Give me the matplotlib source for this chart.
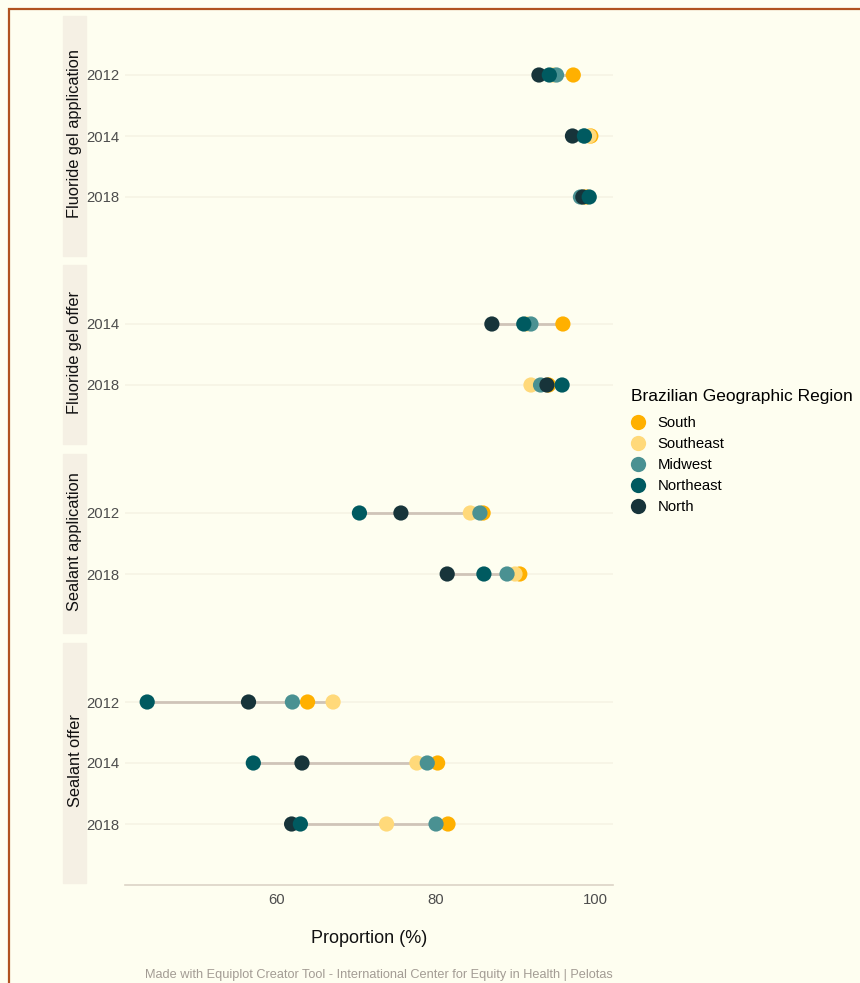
import matplotlib
matplotlib.use("Agg")
import matplotlib.pyplot as plt
from matplotlib.lines import Line2D
from matplotlib.patches import Rectangle
import numpy as np

# ---------------- data ----------------
indicators = ["Fluoride gel application", "Fluoride gel offer",
              "Sealant application", "Sealant offer"]
years = [["2012", "2014", "2018"], ["2014", "2018"], ["2012", "2018"],
         ["2012", "2014", "2018"]]
regions = ["South", "Southeast", "Midwest", "Northeast", "North"]
# rows in order: indicator x year (flattened)
south     = [97.2, 99.4, 98.8, 95.9, 94.1, 85.9, 90.5, 63.9, 80.2, 81.5]
southeast = [94.7, 99.2, 98.6, 91.4, 91.9, 84.3, 89.9, 67.1, 77.6, 73.8]
midwest   = [95.1, 98.5, 98.1, 91.9, 93.1, 85.5, 88.9, 62.0, 78.9, 80.0]
northeast = [94.2, 98.6, 99.2, 91.0, 95.8, 70.4, 86.0, 43.8, 57.1, 63.0]
north     = [92.9, 97.1, 98.4, 87.0, 93.9, 75.6, 81.4, 56.5, 63.2, 61.9]
x_ticks = [60, 80, 100]

colors = {"South": "#FFB000", "Southeast": "#FFD97A", "Midwest": "#4A9192",
          "Northeast": "#005A60", "North": "#17343A"}
draw_order = ["South", "Southeast", "Midwest", "North", "Northeast"]
values = {"South": south, "Southeast": southeast, "Midwest": midwest,
          "Northeast": northeast, "North": north}

# ---------------- layout ----------------
W, H = 860, 983
BG = "#FEFEF0"
plt.rcParams["font.family"] = ["Liberation Sans", "DejaVu Sans"]
fig = plt.figure(figsize=(W / 100, H / 100), dpi=100, facecolor=BG)

def fx(px):
    return px / W

def fy(py):
    return 1 - py / H

panel_left, panel_right = 125, 613
strip_left, strip_right = 63, 86
unit = 61.0
panel_tops = [14, 263, 452, 641]

allv = np.concatenate([np.array(v) for v in values.values()])
lo, hi = allv.min(), allv.max()
pad = (hi - lo) * 0.05
xlim = (lo - pad, hi + pad)

row = 0
axes = []
for i, ind in enumerate(indicators):
    n = len(years[i])
    top = panel_tops[i]
    h = (n + 1) * unit
    ax = fig.add_axes([fx(panel_left), fy(top + h), fx(panel_right - panel_left), h / H])
    ax.set_facecolor(BG)
    ax.set_xlim(*xlim)
    ax.set_ylim(n + 1, 0)
    ys = np.arange(1, n + 1)
    for y in ys:
        ax.axhline(y, color="#F6F4E4", lw=1.2, zorder=0)
    for j in range(n):
        r = row + j
        vals = [values[reg][r] for reg in regions]
        ax.plot([min(vals), max(vals)], [ys[j], ys[j]], color="#CFC4B8", lw=2, zorder=1,
                solid_capstyle="butt")
        for reg in draw_order:
            ax.scatter(values[reg][r], ys[j], s=120, color=colors[reg], zorder=2,
                       edgecolors="none")
    row += n
    ax.set_yticks(ys)
    ax.set_yticklabels(years[i])
    ax.tick_params(axis="y", length=0, pad=4, labelsize=10.7, labelcolor="#4D4D4D")
    for s in ax.spines.values():
        s.set_visible(False)
    if i == len(indicators) - 1:
        ax.set_xticks(x_ticks)
        ax.tick_params(axis="x", length=0, pad=6, labelsize=10.7, labelcolor="#4D4D4D")
        ax.spines["bottom"].set_visible(True)
        ax.spines["bottom"].set_color("#DCD3C6")
        ax.spines["bottom"].set_linewidth(1.2)
        ax.set_xlabel("Proportion (%)", fontsize=13, color="#111111", labelpad=16)
    else:
        ax.set_xticks([])
    # strip
    fig.patches.append(Rectangle((fx(strip_left), fy(top + h - 2)), fx(strip_right - strip_left),
                                 (h - 4) / H, transform=fig.transFigure, color="#F5F0E4",
                                 zorder=-1))
    fig.text(fx((strip_left + strip_right) / 2 + 0.5), fy(top + h / 2 - 2), ind, rotation=90,
             ha="center", va="center", fontsize=11.8, color="#111111")
    axes.append(ax)

# legend
handles = [Line2D([], [], marker="o", ls="none", markersize=11, color=colors[r],
                  markeredgewidth=0) for r in regions]
leg = fig.legend(handles, regions, title="Brazilian Geographic Region",
                 loc="upper left", bbox_to_anchor=(fx(625), fy(383)), frameon=False,
                 fontsize=10.7, title_fontsize=12.5, handlelength=1.0, handletextpad=0.8,
                 labelspacing=0.47, alignment="left", borderaxespad=0)
leg._legend_box.sep = 9

# caption
fig.text(fx(613), fy(975), "Made with Equiplot Creator Tool - International Center for Equity in Health | Pelotas",
         ha="right", va="center", fontsize=9.15, color="#A39C94")

# outer border
fig.patches.append(Rectangle((fx(9), fy(H + 5)), fx(W + 5 - 9), (H + 5 - 9) / H,
                             transform=fig.transFigure, fill=False,
                             edgecolor="#B0521E", lw=1.6, zorder=10))

fig.savefig("out.png", dpi=100, facecolor=BG)
